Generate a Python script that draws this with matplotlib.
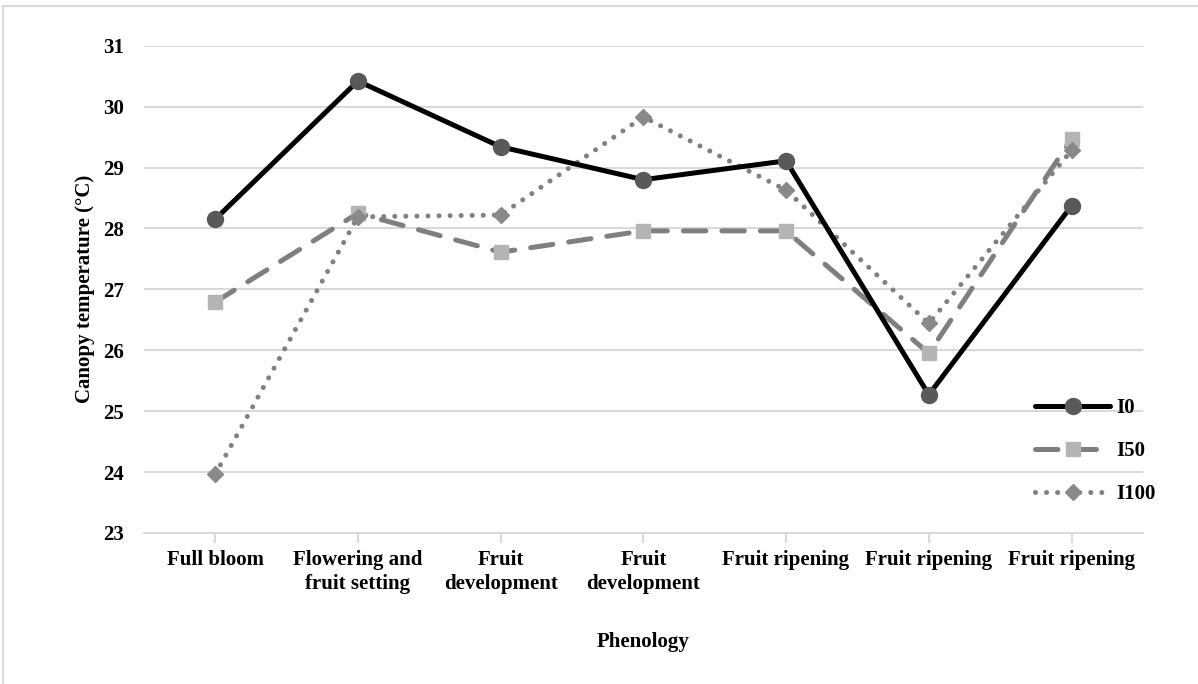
import matplotlib
matplotlib.use("Agg")
import matplotlib.pyplot as plt
from matplotlib.lines import Line2D

# Data
stages = ["Full bloom", "Flowering and\nfruit setting", "Fruit\ndevelopment", "Fruit\ndevelopment",
          "Fruit ripening", "Fruit ripening", "Fruit ripening"]
i0 = [28.15, 30.42, 29.34, 28.80, 29.11, 25.27, 28.37]
i50 = [26.79, 28.25, 27.61, 27.96, 27.96, 25.95, 29.47]
i100 = [23.96, 28.19, 28.22, 29.83, 28.63, 26.44, 29.28]

plt.rcParams["font.family"] = ["Liberation Serif", "DejaVu Serif"]
plt.rcParams["font.weight"] = "bold"

grid_c = "#d9d9d9"
fig = plt.figure(figsize=(11.98, 6.84), dpi=100)
ax = fig.add_axes([0.120, 0.2208, 0.834, 0.7124])

x = list(range(len(stages)))
ax.plot(x, i0, color="black", lw=3.6, marker="o", ms=11.5, mfc="#595959", mec="#595959",
        label="I0", solid_capstyle="round", zorder=4)
ax.plot(x, i50, color="#7f7f7f", lw=3.6, ls=(0, (4.5, 3.2)), dash_capstyle="round",
        marker="s", ms=10, mfc="#b4b4b4", mec="#b4b4b4", label="I50", zorder=3)
ax.plot(x, i100, color="#808080", lw=3.6, ls=(0, (0.01, 2.2)), dash_capstyle="round",
        marker="D", ms=8.5, mfc="#898989", mec="#898989", label="I100", zorder=3)

ax.set_xlim(-0.5, 6.5)
ax.set_ylim(23, 31)
ax.set_yticks(range(23, 32))
ax.set_xticks(x)
ax.set_xticklabels(stages, fontsize=15, fontweight="bold", linespacing=1.3)
ax.tick_params(axis="y", length=0, pad=14, labelsize=15)
ax.tick_params(axis="x", length=7, width=1.5, color=grid_c, pad=5)
for lab in ax.get_yticklabels():
    lab.set_fontweight("bold")

ax.grid(axis="y", color=grid_c, lw=1.5)
ax.set_axisbelow(True)
for s in ["top", "right", "left"]:
    ax.spines[s].set_visible(False)
ax.spines["bottom"].set_color(grid_c)
ax.spines["bottom"].set_linewidth(1.5)

ax.set_ylabel("Canopy temperature (°C)", fontsize=15, fontweight="bold", labelpad=6)
ax.set_xlabel("Phenology", fontsize=15, fontweight="bold", labelpad=27)

leg = ax.legend(loc="lower right", bbox_to_anchor=(1.032, 0.021), frameon=False, fontsize=15,
                handlelength=3.6, labelspacing=1.1, handletextpad=0.3)
for t in leg.get_texts():
    t.set_fontweight("bold")

# chart frame (top and left edges visible in the reference)
fig.add_artist(Line2D([0.0025, 1.0], [0.991, 0.991], transform=fig.transFigure, color=grid_c, lw=1.5))
fig.add_artist(Line2D([0.0025, 0.0025], [0.0, 0.991], transform=fig.transFigure, color=grid_c, lw=1.5))

fig.savefig("out.png", dpi=100)
